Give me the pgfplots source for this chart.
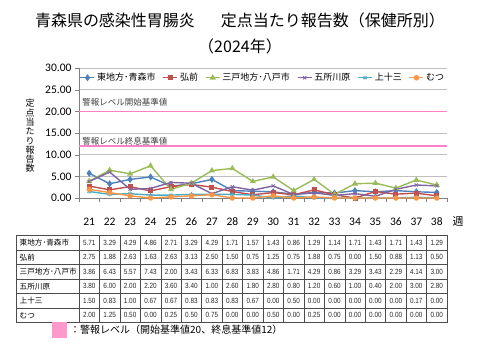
\documentclass[border=0pt]{standalone}
\usepackage{pgfplots}
\pgfplotsset{compat=1.18}
\usepackage{fontspec}
\setmainfont{Carlito}
\newfontfamily\jp{Noto Sans CJK JP}
\newfontfamily\tabnum[FakeStretch=0.85]{Liberation Sans}
\definecolor{cBlue}{HTML}{4F81BD}
\definecolor{cRed}{HTML}{C0504D}
\definecolor{cGreen}{HTML}{9BBB59}
\definecolor{cPurple}{HTML}{8064A2}
\definecolor{cCyan}{HTML}{4BACC6}
\definecolor{cOrange}{HTML}{F79646}
\definecolor{cPink}{HTML}{FF80C8}
\definecolor{cKey}{HTML}{FF99CC}
\definecolor{cGrid}{HTML}{BFBFBF}
\begin{document}
\begin{tikzpicture}[x=1pt,y=1pt]
\useasboundingbox (0,0) rectangle (480,-360);
% title
\node[font=\jp\fontsize{16}{18}\selectfont] at (240,-20) {青森県の感染性胃腸炎\hspace{26pt}定点当たり報告数（保健所別）};
\node[font=\jp\fontsize{16}{18}\selectfont] at (240,-46) {（2024年）};
\begin{axis}[
  scale only axis, width=368pt, height=130pt,
  at={(79pt,-198pt)}, anchor=south west,
  xmin=20.5, xmax=38.5, ymin=0, ymax=30,
  axis x line*=bottom, axis y line*=left,
  axis line style={draw=gray},
  xtick={21,...,38}, minor xtick={20.5,21.5,...,38.5},
  ytick={0,5,...,30},
  tick style={draw=gray},
  major tick length=4pt, minor tick length=4pt,
  tick align=outside,
  major x tick style={draw=none},
  ymajorgrids, grid style={draw=cGrid, line width=0.6pt},
  /pgf/number format/assume math mode=true,
  yticklabel style={/pgf/number format/.cd, fixed, fixed zerofill, precision=2},
  ticklabel style={font=\fontsize{11.5}{13}\selectfont},
  xticklabel style={yshift=-12pt},
  clip=false,
  legend columns=6,
  legend style={at={(0.5,1)}, anchor=north, yshift=-2pt, draw=none, fill=none,
    font=\jp\fontsize{9}{10}\selectfont,
    /tikz/every even column/.append style={column sep=5pt},
    inner sep=1pt},
  legend image code/.code={\draw[#1, mark repeat=2, mark phase=2] plot coordinates {(0pt,0pt) (7pt,0pt) (14pt,0pt)};},
  every axis plot/.append style={line width=1.4pt, mark size=2pt},
]
\addplot[cPink, line width=1.3pt, forget plot, mark=none] coordinates {(20.5,20) (38.5,20)};
\addplot[cPink, line width=1.3pt, forget plot, mark=none] coordinates {(20.5,12) (38.5,12)};
\addplot[cBlue, mark=diamond*, mark size=2.4pt] coordinates {(21,5.71)(22,3.29)(23,4.29)(24,4.86)(25,2.71)(26,3.29)(27,4.29)(28,1.71)(29,1.57)(30,1.43)(31,0.86)(32,1.29)(33,1.14)(34,1.71)(35,1.43)(36,1.71)(37,1.43)(38,1.29)};
\addlegendentry{東地方･青森市}
\addplot[cRed, mark=square*, mark size=1.8pt] coordinates {(21,2.75)(22,1.88)(23,2.63)(24,1.63)(25,2.63)(26,3.13)(27,2.50)(28,1.50)(29,0.75)(30,1.25)(31,0.75)(32,1.88)(33,0.75)(34,0.00)(35,1.50)(36,0.88)(37,1.13)(38,0.50)};
\addlegendentry{弘前}
\addplot[cGreen, mark=triangle*, mark size=2.2pt] coordinates {(21,3.86)(22,6.43)(23,5.57)(24,7.43)(25,2.00)(26,3.43)(27,6.33)(28,6.83)(29,3.83)(30,4.86)(31,1.71)(32,4.29)(33,0.86)(34,3.29)(35,3.43)(36,2.29)(37,4.14)(38,3.00)};
\addlegendentry{三戸地方･八戸市}
\addplot[cPurple, mark=x, mark size=2.2pt, mark options={line width=0.8pt}] coordinates {(21,3.80)(22,6.00)(23,2.00)(24,2.20)(25,3.60)(26,3.40)(27,1.00)(28,2.60)(29,1.80)(30,2.80)(31,0.80)(32,1.20)(33,0.60)(34,1.00)(35,0.40)(36,2.00)(37,3.00)(38,2.80)};
\addlegendentry{五所川原}
\addplot[cCyan, mark=asterisk, mark size=2.2pt, mark options={line width=0.8pt}] coordinates {(21,1.50)(22,0.83)(23,1.00)(24,0.67)(25,0.67)(26,0.83)(27,0.83)(28,0.83)(29,0.67)(30,0.00)(31,0.50)(32,0.00)(33,0.00)(34,0.00)(35,0.00)(36,0.00)(37,0.17)(38,0.00)};
\addlegendentry{上十三}
\addplot[cOrange, mark=*, mark size=2pt] coordinates {(21,2.00)(22,1.25)(23,0.50)(24,0.00)(25,0.25)(26,0.50)(27,0.75)(28,0.00)(29,0.00)(30,0.50)(31,0.00)(32,0.25)(33,0.00)(34,0.00)(35,0.00)(36,0.00)(37,0.00)(38,0.00)};
\addlegendentry{むつ}
\node[anchor=west, font=\jp\fontsize{8.5}{9}\selectfont, text=black!75, inner sep=0pt] at (axis cs:20.65,22.2) {警報レベル開始基準値};
\node[anchor=west, font=\jp\fontsize{8.5}{9}\selectfont, text=black!75, inner sep=0pt] at (axis cs:20.65,13.2) {警報レベル終息基準値};
\end{axis}
% y label
\node[font=\jp\fontsize{9}{9.3}\selectfont, align=center, inner sep=0pt] at (30,-136) {定\\点\\当\\た\\り\\報\\告\\数};
\node[font=\jp\fontsize{11}{12}\selectfont] at (458,-221) {週};
% table
\draw[black!70, line width=0.5pt] (16,-235.5) rectangle (447,-322.5);
\foreach \k in {1,...,5} {\draw[black!70, line width=0.5pt] (16,{-235.5-\k*14.5}) -- (447,{-235.5-\k*14.5});}
\draw[black!70, line width=0.5pt] (79,-235.5) -- (79,-322.5);
\foreach \k in {1,...,17} {\draw[black!70, line width=0.5pt] ({79+\k*20.4444},-235.5) -- ({79+\k*20.4444},-322.5);}
\foreach \name/\vals [count=\r] in {
 東地方･青森市/{5.71,3.29,4.29,4.86,2.71,3.29,4.29,1.71,1.57,1.43,0.86,1.29,1.14,1.71,1.43,1.71,1.43,1.29},
 弘前/{2.75,1.88,2.63,1.63,2.63,3.13,2.50,1.50,0.75,1.25,0.75,1.88,0.75,0.00,1.50,0.88,1.13,0.50},
 三戸地方･八戸市/{3.86,6.43,5.57,7.43,2.00,3.43,6.33,6.83,3.83,4.86,1.71,4.29,0.86,3.29,3.43,2.29,4.14,3.00},
 五所川原/{3.80,6.00,2.00,2.20,3.60,3.40,1.00,2.60,1.80,2.80,0.80,1.20,0.60,1.00,0.40,2.00,3.00,2.80},
 上十三/{1.50,0.83,1.00,0.67,0.67,0.83,0.83,0.83,0.67,0.00,0.50,0.00,0.00,0.00,0.00,0.00,0.17,0.00},
 むつ/{2.00,1.25,0.50,0.00,0.25,0.50,0.75,0.00,0.00,0.50,0.00,0.25,0.00,0.00,0.00,0.00,0.00,0.00}} {
  \node[anchor=west, font=\jp\fontsize{7.6}{9}\selectfont, inner sep=0pt] at (19.5,{-235.5-(\r-0.5)*14.5}) {\name};
  \foreach \v [count=\c] in \vals {
    \node[font=\tabnum\fontsize{7.5}{8}\selectfont, inner sep=0pt, text=black!85] at ({79+(\c-0.5)*20.4444},{-235.5-(\r-0.5)*14.5}) {\v};
  }
}
% key
\fill[cKey] (52,-322) rectangle (67,-338);
\node[anchor=west, font=\jp\fontsize{10}{11}\selectfont, inner sep=0pt] at (70,-330) {：警報レベル（開始基準値20、終息基準値12）};
\end{tikzpicture}
\end{document}
